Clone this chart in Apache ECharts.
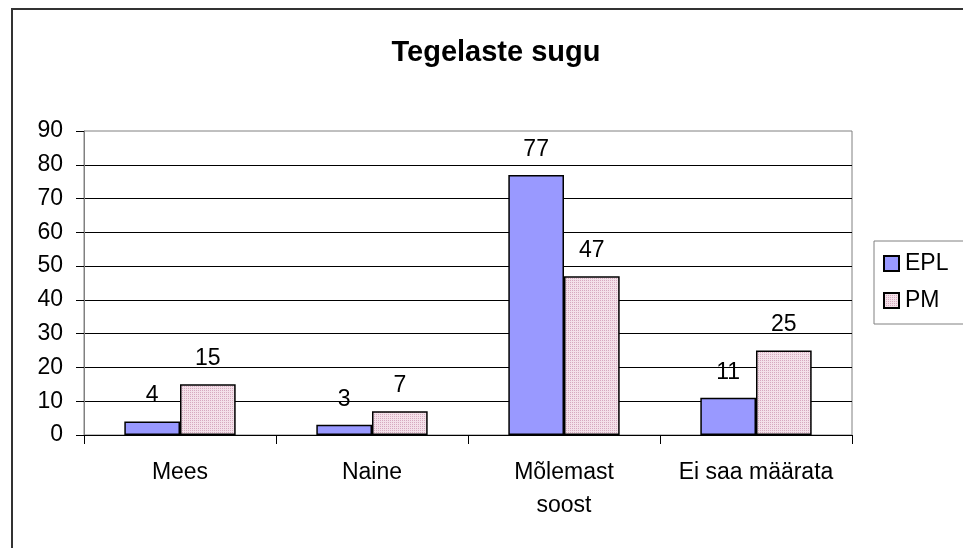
<!DOCTYPE html>
<html>
<head>
<meta charset="UTF-8">
<title>Tegelaste sugu</title>
<script src="https://cdn.jsdelivr.net/npm/echarts@6/dist/echarts.min.js"></script>
<style>
	html, body { margin: 0; padding: 0; background: #fff; }
	#main { width: 963px; height: 548px; }
</style>
</head>
<body>
<div id="main"></div>
<script type="text/javascript">
	// andmed
	var categories = ['Mees', 'Naine', 'Mõlemast\nsoost', 'Ei saa määrata'];
	var eplValues = [4, 3, 77, 11];
	var pmValues = [15, 7, 47, 25];
	var yTicks = [0, 10, 20, 30, 40, 50, 60, 70, 80, 90];

	var FONT = '"Liberation Sans", Arial, sans-serif';

	// roosa täpiline muster (PM)
	function makePattern() {
		var c = document.createElement('canvas');
		c.width = 4; c.height = 4;
		var ctx = c.getContext('2d');
		ctx.fillStyle = '#F3E1E9';
		ctx.fillRect(0, 0, 4, 4);
		ctx.fillStyle = '#D6A9BF';
		ctx.fillRect(0, 0, 1, 1);
		ctx.fillRect(2, 2, 1, 1);
		ctx.fillRect(2, 0, 1, 1);
		ctx.fillRect(0, 2, 1, 1);
		return c;
	}

	var chart = echarts.init(document.getElementById('main'));

	var labelStyle = {
		show: true,
		position: 'top',
		distance: 14,
		color: '#000',
		fontFamily: FONT,
		fontSize: 23
	};

	var option = {
		animation: false,
		backgroundColor: '#fff',
		title: {
			text: 'Tegelaste sugu',
			left: 491,
			top: 33,
			textAlign: 'center',
			textStyle: {
				fontFamily: FONT,
				fontWeight: 'bold',
				fontSize: 29,
				color: '#000'
			}
		},
		legend: {
			orient: 'vertical',
			left: 874,
			top: 241,
			padding: [11, 20, 12, 9],
			itemGap: 14,
			itemWidth: 15,
			itemHeight: 15,
			borderColor: '#808080',
			borderWidth: 1,
			icon: 'rect',
			textStyle: {
				fontFamily: FONT,
				fontSize: 23,
				color: '#000',
				padding: [0, 0, 0, 1]
			},
			data: ['EPL', 'PM']
		},
		grid: {
			left: 84,
			right: 111,
			top: 131,
			bottom: 113,
			show: true,
			borderColor: '#808080',
			borderWidth: 1,
			containLabel: false
		},
		xAxis: {
			type: 'category',
			data: categories,
			axisLine: { lineStyle: { color: '#000', width: 1 } },
			axisTick: { show: true, length: 9, lineStyle: { color: '#000' } },
			axisLabel: {
				interval: 0,
				margin: 21,
				color: '#000',
				fontFamily: FONT,
				fontSize: 23,
				lineHeight: 33
			}
		},
		yAxis: {
			type: 'value',
			min: yTicks[0],
			max: yTicks[yTicks.length - 1],
			interval: 10,
			axisLine: { show: true, lineStyle: { color: '#808080' } },
			axisTick: { show: true, length: 8, lineStyle: { color: '#000' } },
			axisLabel: {
				margin: 21,
				color: '#000',
				fontFamily: FONT,
				fontSize: 23
			},
			splitLine: {
				show: true,
				showMaxLine: false,
				lineStyle: { color: '#000', width: 1 }
			}
		},
		series: [
			{
				name: 'EPL',
				type: 'bar',
				data: eplValues,
				barGap: '0%',
				barCategoryGap: '42%',
				itemStyle: { color: '#9999FF', borderColor: '#000', borderWidth: 1.5 },
				label: labelStyle
			},
			{
				name: 'PM',
				type: 'bar',
				data: pmValues,
				barGap: '0%',
				barCategoryGap: '42%',
				itemStyle: {
					color: { image: makePattern(), repeat: 'repeat' },
					borderColor: '#000',
					borderWidth: 1.5
				},
				label: labelStyle
			}
		],
		graphic: [{
			type: 'rect',
			silent: true,
			z: 100,
			shape: { x: 12, y: 9, width: 1000, height: 600 },
			style: { fill: null, stroke: '#333', lineWidth: 2 }
		}]
	};

	chart.setOption(option);
</script>
</body>
</html>
